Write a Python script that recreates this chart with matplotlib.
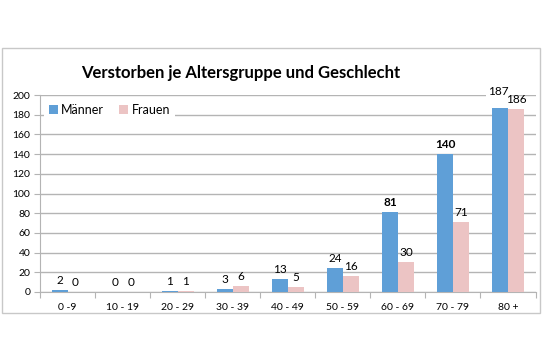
import matplotlib.pyplot as plt
import numpy as np
from matplotlib.patches import Rectangle

# Verstorbene je Altersgruppe
altersgruppen = ["0 -9", "10 - 19", "20 - 29", "30 - 39", "40 - 49",
                 "50 - 59", "60 - 69", "70 - 79", "80 +"]
maenner = [2, 0, 1, 3, 13, 24, 81, 140, 187]
frauen = [0, 0, 1, 6, 5, 16, 30, 71, 186]
fett = [False, False, False, False, False, False, True, True, False]  # bold labels (Männer)

BLAU = "#5f9fd7"
ROSA = "#ecc4c4"
GRAU = "#b4b4b4"

plt.rcParams['font.family'] = ['Lato', 'DejaVu Sans']

fig = plt.figure(figsize=(5.45, 3.63), dpi=100)
ax = fig.add_axes([0.0734, 0.1956, 0.9092, 0.5424])

x = np.arange(len(altersgruppen))
w = 0.29
ax.bar(x - w / 2, maenner, w, color=BLAU, label="Männer", zorder=3)
ax.bar(x + w / 2, frauen, w, color=ROSA, label="Frauen", zorder=3)

for xi, v, f in zip(x, maenner, fett):
    gross = v > 180  # top label sits on the 200 gridline, needs room
    ax.annotate(str(v), (xi - w / 2, v), xytext=(-1, 8) if gross else (0, 3),
                textcoords="offset points", ha="center", va="bottom", fontsize=8.5,
                fontweight="bold" if f else "normal", zorder=5,
                bbox=dict(facecolor="white", edgecolor="none", pad=1.5) if gross else None)
for xi, v in zip(x, frauen):
    ax.annotate(str(v), (xi + w / 2, v), xytext=(0, 3), textcoords="offset points",
                ha="center", va="bottom", fontsize=8.5, zorder=5)

ax.set_ylim(0, 200)
ax.set_xlim(-0.5, len(altersgruppen) - 0.5)
ax.set_yticks(np.arange(0, 201, 20))
ax.yaxis.grid(True, color=GRAU, linewidth=1, zorder=0)
ax.set_axisbelow(True)

# ticks at boundaries, labels at centers
ax.set_xticks(np.arange(-0.5, len(altersgruppen)), labels=[])
ax.set_xticks(x, labels=altersgruppen, minor=True)
ax.tick_params(axis="x", which="major", length=4, color=GRAU)
ax.tick_params(axis="x", which="minor", length=0, labelsize=7.5, pad=8)
ax.tick_params(axis="y", length=4, color=GRAU, labelsize=7.5, pad=3)

for s in ["top", "right"]:
    ax.spines[s].set_visible(False)
for s in ["left", "bottom"]:
    ax.spines[s].set_color(GRAU)

leg = ax.legend(loc="upper left", ncol=2, frameon=True, fontsize=9,
                handlelength=0.7, handleheight=0.7, handletextpad=0.3,
                columnspacing=1.2, borderaxespad=0.3, fancybox=False,
                bbox_to_anchor=(0.0, 1.0))
leg.get_frame().set_edgecolor("none")
leg.get_frame().set_facecolor("white")
leg.get_frame().set_alpha(1)

fig.text(0.442, 0.80, "Verstorben je Altersgruppe und Geschlecht",
         ha="center", va="center", fontsize=12, fontweight="bold")

fig.patches.append(Rectangle((2 / 545, 1 - 313 / 363), 538 / 545, 265 / 363,
                             transform=fig.transFigure, fill=False,
                             edgecolor="#c8c8c8", linewidth=1))

fig.savefig("out.png", dpi=100)
